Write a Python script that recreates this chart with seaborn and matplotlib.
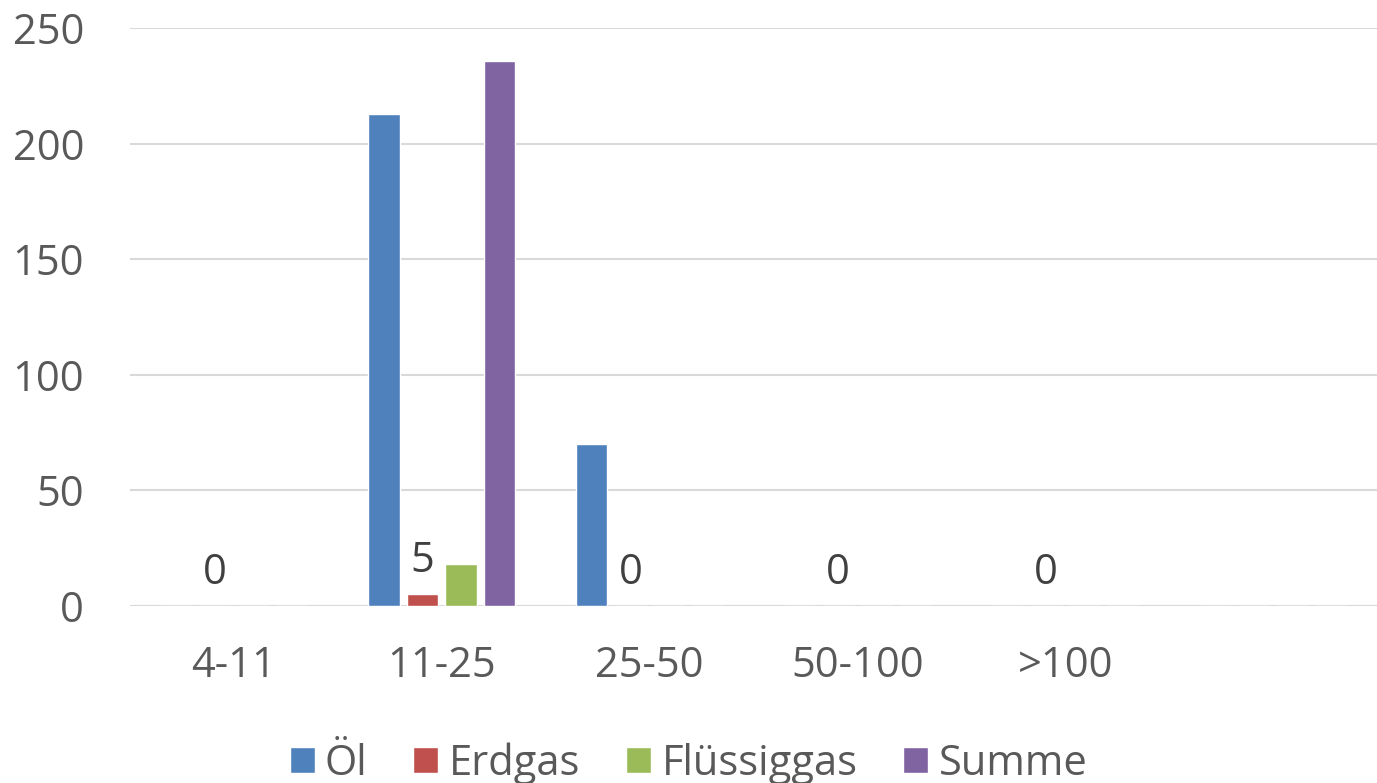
import pandas as pd
import numpy as np
import matplotlib.pyplot as plt
import seaborn as sns

kategorien = ["4-11", "11-25", "25-50", "50-100", ">100", ""]
oel = [0, 213, 70, 0, 0, 0]
erdgas = [0, 5, 0, 0, 0, 0]
fluessiggas = [0, 18, 0, 0, 0, 0]
summe = [0, 236, 0, 0, 0, 0]
serien = ["Öl", "Erdgas", "Flüssiggas", "Summe"]
farben = ["#4F81BD", "#C0504D", "#9BBB59", "#8064A2"]

df = pd.DataFrame({"Kategorie": kategorien * 4,
                   "Serie": np.repeat(serien, len(kategorien)),
                   "Wert": oel + erdgas + fluessiggas + summe})

sns.set_theme(style="white")
plt.rcParams['font.family'] = ['Open Sans', 'DejaVu Sans']

fig = plt.figure(figsize=(13.77, 7.83), dpi=100)
ax = fig.add_axes([0.0944, 0.226, 0.9056, 0.738])

sns.barplot(data=df, x="Kategorie", y="Wert", hue="Serie", order=kategorien,
            hue_order=serien, palette=farben, width=0.74, gap=0.19,
            saturation=1, errorbar=None, ax=ax, legend=True)

# nur Erdgas hat Datenbeschriftungen
ax.bar_label(ax.containers[1], labels=[str(v) for v in erdgas[:5]] + [""],
             padding=9, fontsize=30, color="#404040")

ax.set_ylim(0, 250)
ax.set_xlim(-0.5, 5.5)
ax.set_yticks(range(0, 251, 50))
ax.yaxis.grid(True, color="#D9D9D9", linewidth=1.5)
ax.set_axisbelow(True)
ax.axhline(0, color="#D9D9D9", linewidth=1.5, zorder=0.5)
sns.despine(ax=ax, left=True, bottom=True)
ax.tick_params(axis="both", length=0, labelsize=30, labelcolor="#595959")
ax.tick_params(axis="x", pad=28)
ax.tick_params(axis="y", pad=33)
ax.set_xlabel("")
ax.set_ylabel("")

ax.legend_.remove()
handles, labels = ax.get_legend_handles_labels()
fig.legend(handles[:4], labels[:4], loc="lower center", bbox_to_anchor=(0.5, -0.05),
           ncol=4, frameon=False, fontsize=30, labelcolor="#595959",
           handlelength=0.6, handleheight=0.6, handletextpad=0.25, columnspacing=1.1)

fig.savefig("out.png", dpi=100)
